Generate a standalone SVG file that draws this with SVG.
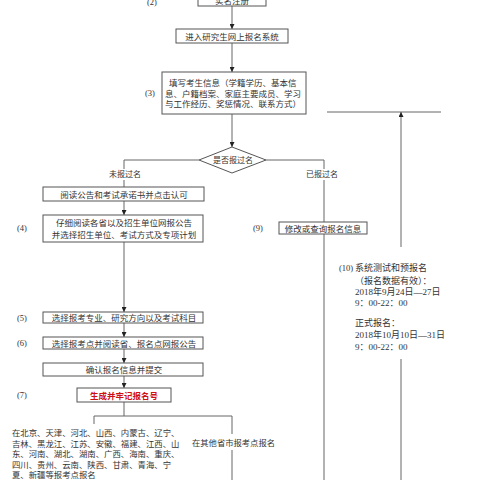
<svg xmlns="http://www.w3.org/2000/svg" width="480" height="480" viewBox="0 0 480 480">
<defs>
<marker id="arr" viewBox="0 0 10 10" refX="10" refY="5" markerWidth="5" markerHeight="5" orient="auto" markerUnits="userSpaceOnUse">
<path d="M0,0 L10,5 L0,10 z" fill="#222"/>
</marker>
<style>
text{font-family:"Liberation Serif","Noto Sans CJK SC",serif;fill:#333;font-size:8.5px}
.box{fill:#fff;stroke:#555;stroke-width:1}
.ln{fill:none;stroke:#666;stroke-width:1}
.c{text-anchor:middle}
.red{fill:#d01010;font-weight:bold}
</style>
</defs>
<rect width="480" height="480" fill="#fff"/>
<g id="connectors">
<path class="ln" d="M232,6 V29" marker-end="url(#arr)"/>
<path class="ln" d="M232,43 V72" marker-end="url(#arr)"/>
<path class="ln" d="M232,114 V147" marker-end="url(#arr)"/>
<path class="ln" d="M199,160 H124 V169 M124,180 V187"/>
<path class="ln" d="M266,160 H324 V169 M324,180 V222 M324,234 V480"/>
<path class="ln" d="M124,201 V215" marker-end="url(#arr)"/>
<path class="ln" d="M124,242 V312" marker-end="url(#arr)"/>
<path class="ln" d="M124,323 V337" marker-end="url(#arr)"/>
<path class="ln" d="M124,349 V363" marker-end="url(#arr)"/>
<path class="ln" d="M124,376 V388" marker-end="url(#arr)"/>
<path class="ln" d="M124,402 V416 M94,424 V416 H232 V434 M232,450 V480"/>
<path class="ln" d="M327,112 H441"/>
<path class="ln" d="M401,247 V112" marker-end="url(#arr)"/>
<path class="ln" d="M401,359 V480"/>
</g>
<g id="n2">
<rect class="box" x="198" y="-10" width="68" height="16"/>
<text class="c" x="232" y="4">实名注册</text>
<text x="147" y="5">(2)</text>
</g>
<g id="n-enter">
<rect class="box" x="176" y="29" width="112" height="14"/>
<text class="c" x="232" y="39.5">进入研究生网上报名系统</text>
</g>
<g id="n3">
<rect class="box" x="162" y="72" width="144" height="42"/>
<text x="169" y="86">填写考生信息（学籍学历、基本信</text>
<text x="165" y="96.5">息、户籍档案、家庭主要成员、学习</text>
<text x="165" y="107">与工作经历、奖惩情况、联系方式）</text>
<text x="145" y="96">(3)</text>
</g>
<g id="n-decision">
<polygon class="box" points="232,147 266,160 232,173 199,160"/>
<text class="c" x="233" y="163" style="font-size:8px">是否报过名</text>
<text class="c" x="125" y="177" style="font-size:8px">未报过名</text>
<text class="c" x="322" y="177" style="font-size:8px">已报过名</text>
</g>
<g id="n-read">
<rect class="box" x="43" y="187" width="161" height="14"/>
<text class="c" x="124" y="197.5">阅读公告和考试承诺书并点击认可</text>
</g>
<g id="n4">
<rect class="box" x="43" y="215" width="160" height="27"/>
<text class="c" x="124" y="226">仔细阅读各省以及招生单位网报公告</text>
<text class="c" x="124" y="238">并选择招生单位、考试方式及专项计划</text>
<text x="17" y="231">(4)</text>
</g>
<g id="n5">
<rect class="box" x="43" y="312" width="160" height="11"/>
<text class="c" x="124" y="321">选择报考专业、研究方向以及考试科目</text>
<text x="17" y="321">(5)</text>
</g>
<g id="n6">
<rect class="box" x="43" y="337" width="160" height="12"/>
<text class="c" x="124" y="346.5">选择报考点并阅读省、报名点网报公告</text>
<text x="17" y="346">(6)</text>
</g>
<g id="n-confirm">
<rect class="box" x="43" y="363" width="160" height="13"/>
<text class="c" x="124" y="372.5">确认报名信息并提交</text>
</g>
<g id="n7">
<rect class="box" x="77" y="388" width="94" height="14"/>
<text class="c red" x="124" y="398.5">生成并牢记报名号</text>
<text x="17" y="398">(7)</text>
</g>
<g id="n-left-provinces">
<text x="12" y="436" style="font-size:8.4px">在北京、天津、河北、山西、内蒙古、辽宁、</text>
<text x="12" y="446.5" style="font-size:8.4px">吉林、黑龙江、江苏、安徽、福建、江西、山</text>
<text x="12" y="457" style="font-size:8.4px">东、河南、湖北、湖南、广西、海南、重庆、</text>
<text x="12" y="467.5" style="font-size:8.4px">四川、贵州、云南、陕西、甘肃、青海、宁</text>
<text x="12" y="478" style="font-size:8.4px">夏、新疆等报考点报名</text>
</g>
<g id="n-other-provinces">
<text x="192" y="446" style="font-size:8.3px">在其他省市报考点报名</text>
</g>
<g id="n9">
<rect class="box" x="279" y="222" width="88" height="12"/>
<text class="c" x="323" y="231.5">修改或查询报名信息</text>
<text x="253" y="231">(9)</text>
</g>
<g id="n10">
<text x="339" y="271">(10)</text>
<text x="355" y="271" style="font-size:9px">系统测试和预报名</text>
<text x="355" y="284" style="font-size:9px">（报名数据有效）：</text>
<text x="355" y="295" style="font-size:9px">2018年9月24日—27日</text>
<text x="355" y="306" style="font-size:9px">9：00-22：00</text>
<text x="355" y="326" style="font-size:9px">正式报名：</text>
<text x="355" y="338" style="font-size:9px">2018年10月10日—31日</text>
<text x="355" y="350" style="font-size:9px">9：00-22：00</text>
</g>
</svg>
